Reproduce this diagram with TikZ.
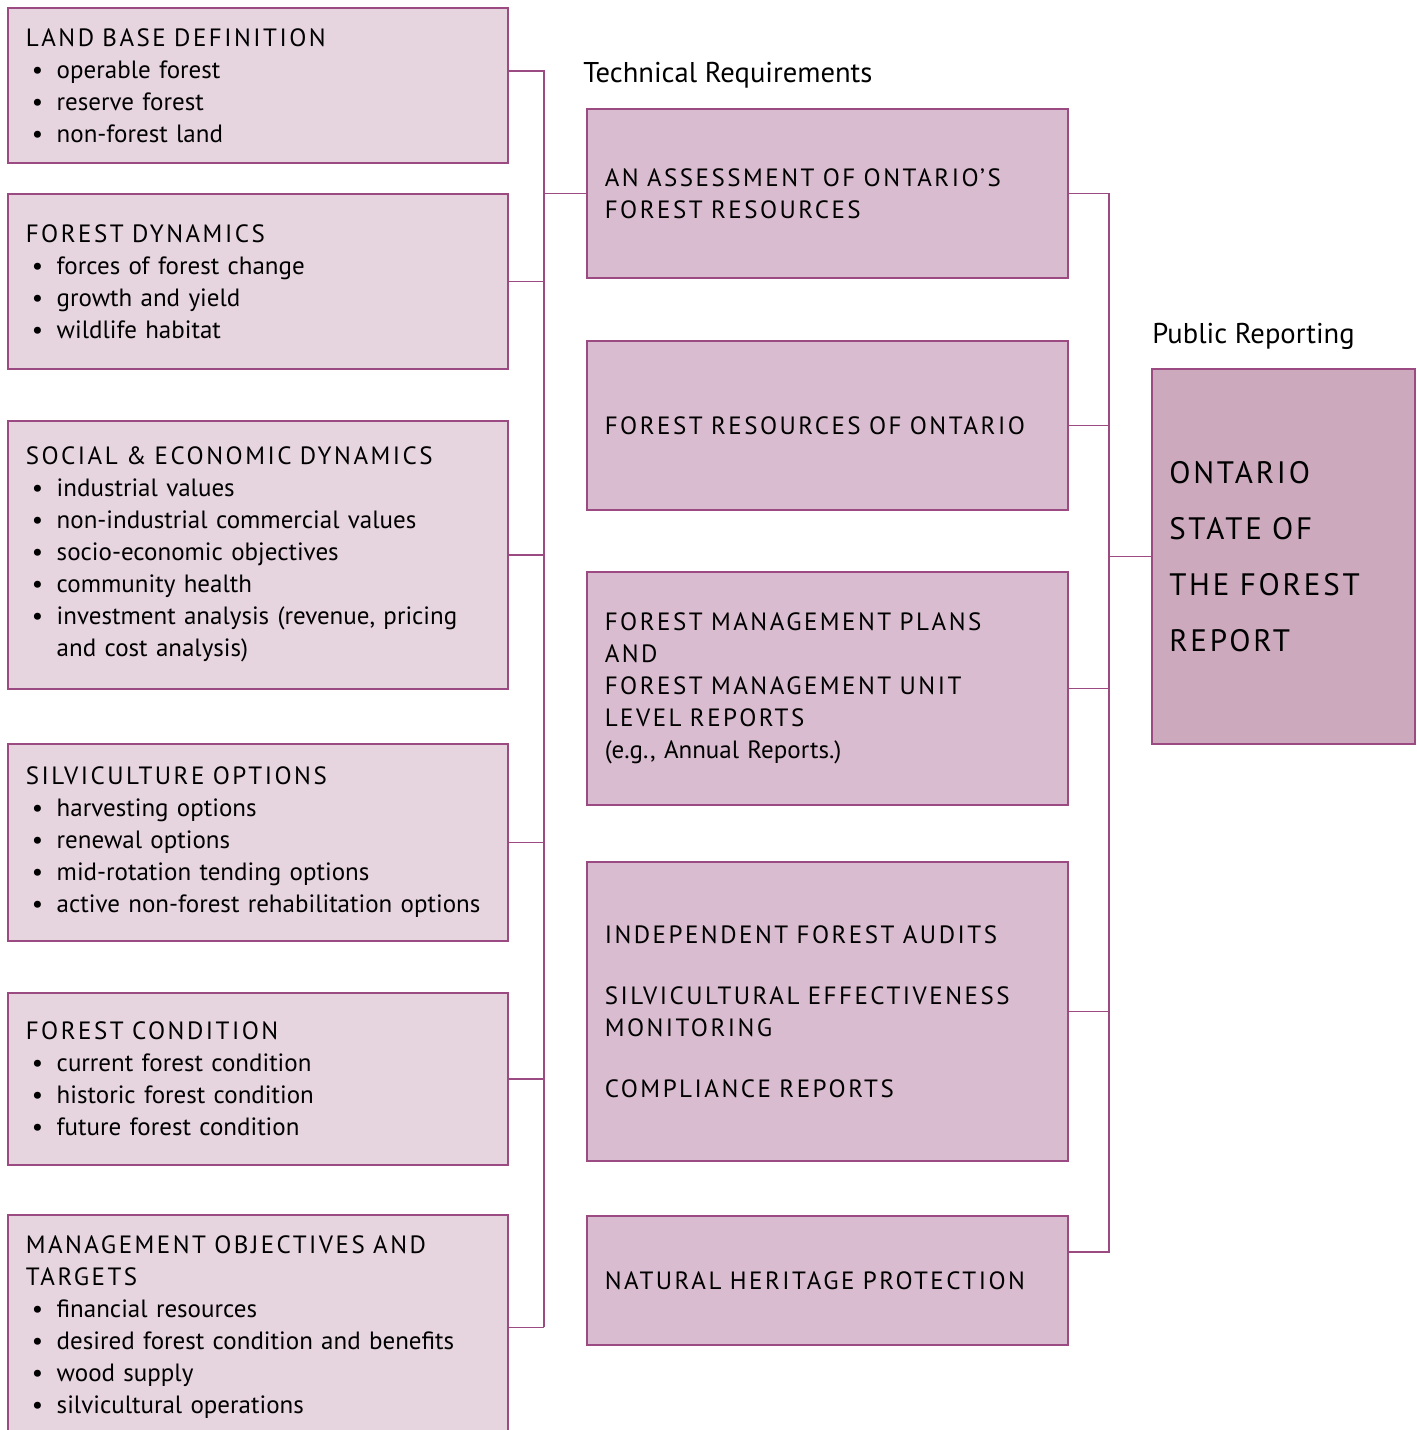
\documentclass[tikz,border=0pt]{standalone}
\usepackage{fontspec}
\setmainfont{PT Sans}
\newfontfamily\capsp[LetterSpace=10]{PT Sans}
\newfontfamily\capwide[LetterSpace=9]{PT Sans}
\definecolor{rim}{RGB}{155,75,130}
\definecolor{paleplum}{RGB}{230,212,223}
\definecolor{midplum}{RGB}{217,188,207}
\definecolor{deepplum}{RGB}{204,169,189}
\newcommand\itm{\makebox[15.5pt][l]{\hspace{3pt}\textbullet}}
\newcommand\cont{\hspace*{15.5pt}}
\tikzset{
  box/.style={draw=rim, line width=0.75pt, anchor=north west, inner xsep=9pt, inner ysep=0pt,
    align=left, font=\fontsize{12.5}{16}\selectfont},
  lbox/.style={box, fill=paleplum, minimum width=250pt, text width=232pt},
  mbox/.style={box, fill=midplum, minimum width=240.5pt, text width=222.5pt},
  rbox/.style={box, fill=deepplum, minimum width=131.5pt, text width=114pt, inner xsep=8.5pt,
    font=\fontsize{15.5}{28}\selectfont\capwide},
  link/.style={draw=rim, line width=0.75pt},
  head/.style={anchor=base west, inner sep=0pt, font=\fontsize{14.3}{16}\selectfont}
}
\begin{document}
\begin{tikzpicture}[x=0.5pt, y=-0.5pt]
\useasboundingbox (0,0) rectangle (1417,1430);
% left column
\node[lbox, minimum height=77.5pt] (land) at (7,7) {{\capsp LAND BASE DEFINITION}\\
  \itm operable forest\\ \itm reserve forest\\ \itm non-forest land};
\node[lbox, minimum height=87.5pt] (dyn) at (7,193) {{\capsp FOREST DYNAMICS}\\
  \itm forces of forest change\\ \itm growth and yield\\ \itm wildlife habitat};
\node[lbox, minimum height=134pt] (socio) at (7,420) {{\capsp SOCIAL \& ECONOMIC DYNAMICS}\\
  \itm industrial values\\ \itm non-industrial commercial values\\ \itm socio-economic objectives\\
  \itm community health\\ \itm investment analysis (revenue, pricing\\ \cont and cost analysis)};
\node[lbox, minimum height=98.5pt] (silv) at (7,743) {{\capsp SILVICULTURE OPTIONS}\\
  \itm harvesting options\\ \itm renewal options\\ \itm mid-rotation tending options\\
  \itm active non-forest rehabilitation options};
\node[lbox, minimum height=86pt] (cond) at (7,992) {{\capsp FOREST CONDITION}\\
  \itm current forest condition\\ \itm historic forest condition\\ \itm future forest condition};
\node[lbox, minimum height=112.5pt] (mgmt) at (7,1214) {{\capsp MANAGEMENT OBJECTIVES AND\\ TARGETS}\\
  \itm financial resources\\ \itm desired forest condition and benefits\\ \itm wood supply\\
  \itm silvicultural operations};
% middle column
\node[head] (tech) at (583,82) {Technical Requirements};
\node[mbox, minimum height=84.5pt] (assess) at (586,108) {\capsp AN ASSESSMENT OF ONTARIO’S\\ FOREST RESOURCES};
\node[mbox, minimum height=84.5pt] (fro) at (586,340) {\capsp FOREST RESOURCES OF ONTARIO};
\node[mbox, minimum height=116.5pt] (fmp) at (586,571) {{\capsp FOREST MANAGEMENT PLANS\\ AND\\
  FOREST MANAGEMENT UNIT\\ LEVEL REPORTS}\\ (e.g., Annual Reports.)};
\node[mbox, minimum height=149.5pt] (ifa) at (586,861) {\capsp INDEPENDENT FOREST AUDITS\\[14.5pt]
  SILVICULTURAL EFFECTIVENESS\\ MONITORING\\[14.5pt] COMPLIANCE REPORTS};
\node[mbox, minimum height=64.5pt] (nhp) at (586,1215) {\capsp NATURAL HERITAGE PROTECTION};
% right column
\node[head] (pub) at (1152,343) {Public Reporting};
\node[rbox, minimum height=187.5pt] (sofr) at (1151,368) {ONTARIO\\ STATE OF\\ THE FOREST\\ REPORT};
% connectors
\coordinate (lbus) at (544,0);
\coordinate (rbus) at (1109,0);
\draw[link] ([yshift=7.25pt]land.east) -- ([yshift=7.25pt]land.east -| lbus) -- (mgmt.east -| lbus);
\foreach \b in {dyn, socio, silv, cond, mgmt}{
  \draw[link] (\b.east) -- (\b.east -| lbus);
}
\draw[link] (assess.west -| lbus) -- (assess.west);
\draw[link] ([yshift=14.25pt]nhp.east) -- ([yshift=14.25pt]nhp.east -| rbus) -- (assess.east -| rbus) -- (assess.east);
\foreach \b in {fro, fmp, ifa}{
  \draw[link] (\b.east) -- (\b.east -| rbus);
}
\draw[link] (sofr.west -| rbus) -- (sofr.west);
\end{tikzpicture}
\end{document}
